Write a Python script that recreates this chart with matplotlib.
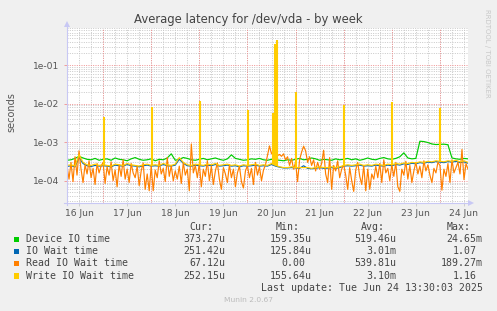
import matplotlib
matplotlib.use('Agg')
from matplotlib import pyplot as plt
from matplotlib.ticker import LogLocator, FuncFormatter, NullFormatter
from matplotlib.lines import Line2D
from matplotlib.patches import Rectangle
import matplotlib.dates as mdates
import numpy as np
import pandas as pd

W, H = 497, 311

start = pd.Timestamp('2025-06-16 06:00')
end = pd.Timestamp('2025-06-24 14:00')

# all series in microseconds, hours counted from `start`
read_1h = [
    250, 110, 300, 95, 420, 140, 600, 200, 90, 260,
    150, 330, 120, 210, 80, 280, 160, 240, 300, 85,
    230, 140, 310, 100, 190, 70, 260, 130, 350, 110,
    200, 90, 280, 160, 120, 240, 75, 180, 290, 60,
    150, 55, 250, 55, 190, 120, 330, 150, 210, 95,
    400, 130, 250, 100, 180, 110, 240, 85, 300, 140,
    200, 55, 900, 160, 250, 120, 280, 70, 200, 130,
    330, 100, 240, 80, 180, 290, 110, 60, 220, 150,
    90, 260, 120, 200, 70, 160, 240, 95, 65, 180,
    250, 120, 210, 80, 300, 140, 230, 100, 190, 260,
    450, 800, 500, 600, 500, 450, 480, 430, 500, 350,
    420, 250, 380, 200, 300, 95, 350, 550, 790, 600,
    300, 420, 250, 350, 180, 300, 200, 280, 620, 150,
    90, 400, 60, 250, 180, 330, 120, 200, 260, 140,
    60, 220, 100, 53, 190, 300, 130, 80, 250, 55,
    200, 60, 150, 110, 240, 120, 280, 90, 350, 160,
    210, 100, 260, 130, 300, 70, 53, 200, 140, 320,
    110, 250, 90, 180, 300, 150, 240, 120, 330, 180,
    260, 140, 90, 210, 160, 300, 250, 57, 200, 130,
    280, 90, 350, 160, 220, 300, 150, 650, 107, 280, 200,
]

device_2h = [
    340, 350, 380, 430, 390, 360, 350, 380, 340, 360,
    370, 340, 390, 360, 350, 330, 370, 400, 360, 340,
    350, 370, 330, 360, 350, 390, 500, 340, 360, 400,
    380, 350, 340, 360, 380, 350, 370, 390, 360, 340,
    370, 470, 380, 360, 340, 350, 370, 360, 380, 350,
    340, 360, 350, 340, 330, 350, 340, 360, 380, 350,
    360, 390, 370, 340, 360, 350, 340, 370, 350, 360,
    380, 350, 370, 340, 360, 390, 360, 350, 380, 400,
    370, 360, 380, 420, 530, 390, 370, 380, 1060, 1040,
    980, 900, 870, 880, 890, 860, 390, 370, 360, 380, 370,
]

iowait_2h = [
    235, 245, 230, 400, 280, 245, 235, 250, 240, 245,
    240, 230, 255, 245, 240, 265, 245, 240, 230, 245,
    255, 240, 245, 240, 265, 245, 240, 255, 360, 285,
    245, 240, 255, 245, 240, 255, 245, 265, 240, 245,
    255, 240, 245, 230, 245, 240, 245, 255, 240, 245,
    240, 265, 240, 225, 215, 215, 220, 215, 210, 245,
    210, 205, 210, 220, 210, 212, 220, 210, 220, 240,
    245, 240, 245, 255, 240, 245, 240, 255, 245, 240,
    255, 245, 265, 255, 275, 265, 285, 275, 295, 285,
    305, 295, 315, 305, 295, 315, 305, 320, 295, 310, 285,
]

write_2h = [
    250, 260, 240, 480, 300, 260, 250, 270, 250, 260,
    250, 240, 270, 260, 250, 280, 260, 250, 240, 260,
    270, 250, 260, 250, 280, 260, 250, 270, 400, 300,
    260, 250, 270, 260, 250, 270, 260, 280, 250, 260,
    270, 250, 260, 240, 260, 250, 260, 270, 250, 260,
    250, 280, 250, 230, 220, 220, 230, 220, 220, 220,
    220, 210, 220, 230, 220, 220, 230, 220, 230, 250,
    260, 250, 260, 270, 250, 260, 250, 270, 260, 250,
    270, 260, 280, 270, 290, 280, 300, 290, 310, 300,
    320, 310, 330, 320, 310, 330, 320, 340, 310, 330, 300,
]

# short spikes (hours from start, microseconds)
write_spike_t = [18.6, 42.6, 66.5, 90.5, 114.3, 138.4, 162.3, 186.1, 102.5, 103.9, 104.7]
write_spike_v = [4600, 8300, 11600, 6800, 19900, 9100, 11000, 7500, 5800, 347000, 445000]
iowait_spike_t = [104.0]
iowait_spike_v = [260000]
read_spike_t = [104.2]
read_spike_v = [77000]
device_spike_t = [104.2]
device_spike_v = [15000]

names = ['Device IO time', 'IO Wait time', 'Read IO Wait time', 'Write IO Wait time']
colors = ['#00CC00', '#0066B3', '#FF8000', '#FFCC00']
cur = ['373.27u', '251.42u', '67.12u', '252.15u']
mins = ['159.35u', '125.84u', '0.00', '155.64u']
avgs = ['519.46u', '3.01m', '539.81u', '3.10m']
maxs = ['24.65m', '1.07', '189.27m', '1.16']


def fx(px):
    return px / W


def fy(py):
    return 1 - py / H


t0 = mdates.date2num(start)
t_1h = np.arange(len(read_1h))
t_2h = np.arange(len(write_2h)) * 2


def to_x(hours):
    return t0 + np.asarray(hours, dtype=float) / 24.0


fig = plt.figure(figsize=(W / 100, H / 100), dpi=100, facecolor='#F0F0F0')
ax = fig.add_axes([fx(67), fy(203), fx(468) - fx(67), fy(28.3) - fy(203)])
ax.set_facecolor('white')

us = 1e-6
series = [
    (t_2h, device_2h, device_spike_t, device_spike_v),
    (t_2h, iowait_2h, iowait_spike_t, iowait_spike_v),
    (t_1h, read_1h, read_spike_t, read_spike_v),
    (t_2h, write_2h, write_spike_t, write_spike_v),
]
for (t, v, st, sv), col in zip(series, colors):
    v = np.asarray(v, dtype=float)
    ax.plot(to_x(t), v * us, color=col, lw=0.85, zorder=3)
    base = np.interp(st, t, v)
    ax.vlines(to_x(st), base * us, np.asarray(sv) * us, colors=col, lw=1.5, zorder=3)

ax.set_yscale('log')
ax.set_ylim(2.65e-5, 0.9)
ax.set_xlim(mdates.date2num(start), mdates.date2num(end))

ax.yaxis.set_major_locator(LogLocator(base=10))
ax.yaxis.set_minor_locator(LogLocator(base=10, subs=np.arange(2, 10)))
ax.yaxis.set_minor_formatter(NullFormatter())
ax.yaxis.set_major_formatter(FuncFormatter(lambda v, p: f'{v:.0e}'))

ax.xaxis.set_major_locator(mdates.HourLocator(byhour=12))
ax.xaxis.set_minor_locator(mdates.HourLocator(byhour=[0, 6, 18]))
ax.xaxis.set_major_formatter(mdates.DateFormatter('%d %b'))

grid_gray = '#c8c8c8'
grid_red = '#f09090'
dots = (0, (1, 1.4))
ax.grid(which='both', axis='x', color=grid_gray, lw=0.7, linestyle=dots)
ax.grid(which='minor', axis='y', color=grid_gray, lw=0.7, linestyle=dots)
ax.grid(which='major', axis='y', color=grid_red, lw=0.7, linestyle=dots)
for d in pd.date_range(start.ceil('D'), end, freq='D'):
    ax.axvline(mdates.date2num(d), color=grid_red, lw=0.7, linestyle=dots, zorder=1)
ax.set_axisbelow(True)

ax.tick_params(axis='both', which='both', length=2, width=0.6, color=grid_gray,
               labelsize=6.6, labelcolor='#555555')
ax.tick_params(axis='y', which='major', color=grid_red, pad=3.5)
ax.tick_params(axis='y', which='minor', length=0)
ax.tick_params(axis='x', which='minor', length=0)
ax.tick_params(axis='x', which='major', pad=2.5)

for s in ax.spines.values():
    s.set_visible(False)

axis_col = '#c8c8f4'
fig.add_artist(Line2D([fx(67), fx(67)], [fy(205), fy(25)], color=axis_col, lw=0.8))
fig.add_artist(Line2D([fx(64), fx(470)], [fy(203), fy(203)], color=axis_col, lw=0.8))
fig.add_artist(Line2D([fx(67)], [fy(24)], marker='^', ms=4.5, mew=0, color=axis_col))
fig.add_artist(Line2D([fx(471)], [fy(203)], marker='>', ms=4.5, mew=0, color=axis_col))

fig.text(fx(248), fy(19.3), 'Average latency for /dev/vda - by week', ha='center', va='center',
         fontsize=8.4, color='#444444')
fig.text(fx(11), fy(112), 'seconds', rotation=90, ha='center', va='center',
         fontsize=7, color='#555555')
fig.text(fx(487.5), fy(53), 'RRDTOOL / TOBI OETIKER', rotation=270, ha='center', va='center',
         fontsize=5.0, color='#c8c8c8')

# legend block
mono = dict(family='DejaVu Sans Mono', fontsize=7.15, color='#444444')
cw = 5.98
col_right = [225.7, 311.7, 396.7, 482.7]
heads = ['Cur:', 'Min:', 'Avg:', 'Max:']
for h, r in zip(heads, col_right):
    fig.text(fx(r - 2 * cw), fy(227.3), h, ha='right', va='center', **mono)

row_y = [239.3, 251.5, 263.5, 275.7]
for i, (name, col) in enumerate(zip(names, colors)):
    y = row_y[i]
    fig.add_artist(Rectangle((fx(13.5), fy(y + 2.8)), fx(5.8), fy(0) - fy(5.6),
                             facecolor=col, edgecolor='none'))
    fig.text(fx(26), fy(y), name, ha='left', va='center', **mono)
    for vals, r in zip([cur, mins, avgs, maxs], col_right):
        s = vals[i]
        shift = 0 if s[-1].isalpha() else cw
        fig.text(fx(r - shift), fy(y), s, ha='right', va='center', **mono)

fig.text(fx(482.7), fy(287.7), 'Last update: Tue Jun 24 13:30:03 2025', ha='right', va='center', **mono)
fig.text(fx(248), fy(300), 'Munin 2.0.67', ha='center', va='center', fontsize=5.4, color='#bbbbbb')

fig.savefig('out.png', dpi=100, facecolor=fig.get_facecolor())
